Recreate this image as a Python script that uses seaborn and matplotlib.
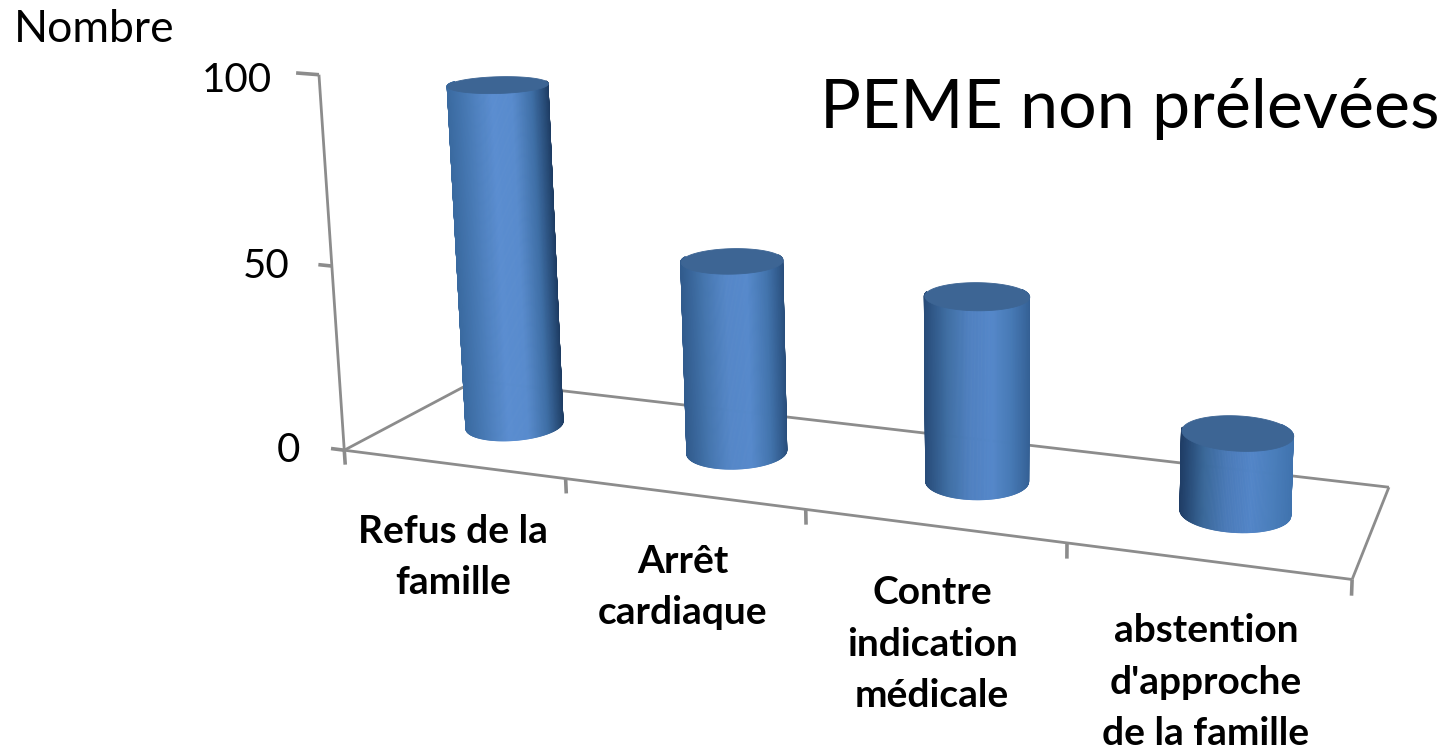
import numpy as np
import pandas as pd
import matplotlib
matplotlib.use('Agg')
import matplotlib.pyplot as plt
import seaborn as sns
from mpl_toolkits.mplot3d.art3d import Poly3DCollection

# ── 1. Data ───────────────────────────────────────────────────────────────────
categories = ['Refus de la\nfamille', 'Arrêt\ncardiaque',
              'Contre\nindication\nmédicale',
              "abstention\nd'approche\nde la famille"]
values = [94.5, 52.5, 49.5, 21]
value_ticks = [0, 50, 100]
title = 'PEME non prélevées'
ylabel = 'Nombre'

df = pd.DataFrame({'categorie': categories, 'nombre': values})

# ── 2. Theme, figure, camera ──────────────────────────────────────────────────
sns.set_theme(style='white')
plt.rcParams['font.family'] = ['Lato', 'DejaVu Sans']

PX_W, PX_H = 1444, 749
GREY = '#8c8c8c'
CAP = '#3d6594'

fig = plt.figure(figsize=(PX_W / 100, PX_H / 100), dpi=100)

# the camera axis hits the picture at (1260, 59); 3D axes keep their origin
# at 0.5135 of the width and height, not at the exact middle
side = 2000
ax = fig.add_axes([(1260 - 0.5135 * side) / PX_W,
                   (PX_H - 59 - 0.5135 * side) / PX_H,
                   side / PX_W, side / PX_H],
                  projection='3d', computed_zorder=False)
ax.set_axis_off()
ax.patch.set_alpha(0)
ax.view_init(elev=10.3, azim=-77.3, roll=-1.5)
ax.set_proj_type('persp', focal_length=0.1693)
ax.set_xlim(0, 6.777, view_margin=0)
ax.set_ylim(0, 2.632, view_margin=0)
ax.set_zlim(0, 213.6, view_margin=0)
ax.set_box_aspect((0.947, 0.2966, 0.4462), zoom=0.9667)

# ── 3. Floor and axis lines ───────────────────────────────────────────────────
n_cat = len(categories)
line_kw = dict(color=GREY, lw=2, zorder=1, solid_capstyle='butt')
tick_kw = dict(color=GREY, lw=2.6, zorder=1, solid_capstyle='butt')
ax.plot([0, n_cat], [0, 0], [0, 0], **line_kw)
ax.plot([0, n_cat], [1, 1], [0, 0], **line_kw)
ax.plot([0, 0], [0, 1], [0, 0], **line_kw)
ax.plot([n_cat, n_cat], [0, 1], [0, 0], **line_kw)
ax.plot([0, 0], [0, 0], [0, value_ticks[-1]], **line_kw)
for t, tick_len in zip(value_ticks, [0.06, 0.06, 0.1]):
    ax.plot([-tick_len, 0], [0, 0], [t, t], **tick_kw)
for i in [0, 0.97, 1.96, 2.97, 4]:
    ax.plot([i, i], [0, 0], [-4, 0], **tick_kw)

# ── 4. Cylinders ──────────────────────────────────────────────────────────────
# shading across the visible side, from left edge to right edge; the first bar
# is dark on its right, the last one dark on its left
far_left = sns.blend_palette(['#3a6aa0', '#4a7cb8', '#5a8dd0',
                              '#588bcd', '#3f6fa6', '#1c3a60'], n_colors=256)
far_right = sns.blend_palette(['#1f3d66', '#3a6899', '#4a7ab8',
                               '#5285c8', '#4a7ebb', '#3f72ad'], n_colors=256)
far_left, far_right = np.array(far_left), np.array(far_right)
facing = [-55, -61, -68.5, -77]

theta_deg = np.linspace(-178, 48, 181)
theta = np.deg2rad(theta_deg)
bar_x = [0.464, 1.456, 2.466, 3.485]
bar_rx = [0.19, 0.196, 0.199, 0.208]
ry = 0.21
y_mid = 0.515
ring = np.deg2rad(np.arange(0, 360, 4))

for k, row in df.iterrows():
    s = np.sin(np.deg2rad(np.clip(theta_deg - facing[k], -90, 90)))
    idx = ((s + 1) / 2 * 255).astype(int)
    w = k / (n_cat - 1)
    rgb = (1 - w) * far_left[idx] + w * far_right[idx]
    colors = np.column_stack([rgb, np.ones(len(rgb))])
    colors = np.stack([colors, colors])

    xs = bar_x[k] + bar_rx[k] * np.cos(theta)
    ys = y_mid + ry * np.sin(theta)
    X = np.stack([xs, xs])
    Y = np.stack([ys, ys])
    Z = np.stack([np.zeros_like(xs), np.full_like(xs, row['nombre'])])
    ax.plot_surface(X, Y, Z, facecolors=colors, rstride=1, cstride=1,
                    shade=False, linewidth=0.6, zorder=2 + 2 * k)
    top = list(zip(bar_x[k] + bar_rx[k] * np.cos(ring), y_mid + ry * np.sin(ring),
                   np.full_like(ring, row['nombre'])))
    ax.add_collection3d(Poly3DCollection([top], facecolor=CAP, edgecolor=CAP,
                                         linewidth=0.6, zorder=3 + 2 * k))


# ── 5. Text ───────────────────────────────────────────────────────────────────
def put(px, py, s, **kw):
    fig.text(px / PX_W, 1 - py / PX_H, s, color='black', **kw)


put(820, 109, title, fontsize=49, ha='left', va='center')
put(14, 29, ylabel, fontsize=32, ha='left', va='center')
for t, (px, py) in zip(value_ticks, [(300, 451), (290, 266), (272, 80)]):
    put(px, py, str(t), fontsize=29, ha='right', va='center')

label_xy = [(453, 557), (683, 587), (932, 644), (1206, 682)]
for name, (px, py) in zip(categories, label_xy):
    put(px, py, name, fontsize=28, fontweight='bold', ha='center', va='center',
        multialignment='center', linespacing=1.57)

fig.savefig('out.png', dpi=100, facecolor='white')
